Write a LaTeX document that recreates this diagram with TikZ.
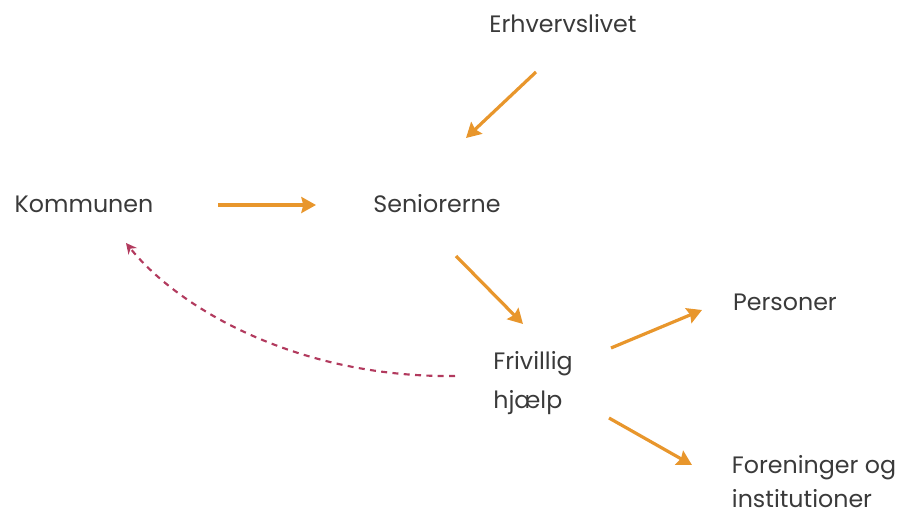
\documentclass[tikz,border=0pt]{standalone}
\usepackage{fontspec}
\setmainfont{Poppins}
\usetikzlibrary{calc,arrows.meta}
\definecolor{pilorange}{HTML}{E8962C}
\definecolor{pilrod}{HTML}{B23A5E}
\definecolor{tekst}{HTML}{3A3A3A}

\begin{document}
\begin{tikzpicture}[x=0.75pt,y=-0.75pt,
	aktor/.style={text=tekst,inner sep=0pt,font=\fontsize{17.8}{27}\selectfont,align=left},
	pil/.style={pilorange,line width=2.4pt,-{Stealth[length=11pt,width=12pt,inset=1.5pt]}},
	retur/.style={pilrod,line width=1.6pt,dash pattern=on 4.5pt off 4pt,-{Stealth[length=8pt,width=8pt]}}]
\useasboundingbox (0,0) rectangle (907,517);

\node[aktor] (erhv) at (563,24) {Erhvervslivet};
\node[aktor] (komm) at (84,204) {Kommunen};
\node[aktor] (sen) at (437,204) {Seniorerne};
\node[aktor] (pers) at (785,302) {Personer};
\node[aktor,font=\fontsize{17.8}{29}\selectfont] (friv) at (533,383) {Frivillig\\hjælp};
\node[aktor,font=\fontsize{17.8}{25.5}\selectfont] (fore) at (814,482) {Foreninger og\\institutioner};

\draw[pil] ($(erhv)+(-27,48)$)--($(sen)+(29,-66)$);
\draw[pil] ($(komm)+(134,1)$)--($(sen)+(-121,1)$);
\draw[pil] ($(sen)+(19,52)$)--($(friv)+(-10,-59)$);
\draw[pil] ($(friv)+(78,-35)$)--($(pers)+(-83,8)$);
\draw[pil] ($(friv)+(76,35)$)--($(fore)+(-122,-17)$);
% stiplet pil tilbage til kommunen
\draw[retur] ($(friv)+(-78,-7)$) .. controls ($(friv)+(-233,-5)$) and ($(komm)+(96,106)$) .. ($(komm)+(42,39)$);

\end{tikzpicture}
\end{document}
